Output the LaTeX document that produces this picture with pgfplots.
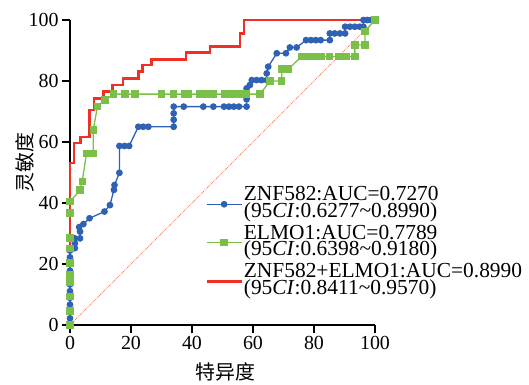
\documentclass[border=0pt]{standalone}
\usepackage{pgfplots}
\pgfplotsset{compat=1.18}
\usepackage{fontspec}
\setmainfont{Liberation Serif}
\newfontfamily\cjk{Noto Sans CJK SC}
\definecolor{cblue}{RGB}{47,98,180}
\definecolor{cgreen}{RGB}{122,192,72}
\definecolor{cred}{RGB}{240,48,36}
\definecolor{cdiag}{RGB}{242,112,82}
\newcommand\twolines[2]{$\vcenter{\baselineskip=16.7bp\lineskiplimit=-50bp\hbox{#1}\hbox{#2}}$}
\begin{document}
\begin{tikzpicture}
\begin{axis}[
  scale only axis, width=305bp, height=305bp,
  xmin=0, xmax=100, ymin=0, ymax=100,
  axis lines*=left, clip=false,
  axis line style={line width=1.6bp, black},
  tick style={line width=1.6bp, black},
  major tick length=8bp, tick align=outside,
  xtick={0,20,...,100}, ytick={0,20,...,100},
  /pgf/number format/assume math mode=true,
  ticklabel style={font=\fontsize{20}{20}\selectfont},
  xlabel={\cjk 特异度}, ylabel={\cjk 灵敏度},
  label style={font=\fontsize{20}{20}\selectfont},
  xlabel style={at={(axis description cs:0.511,-0.154)}, anchor=center},
  ylabel style={at={(axis description cs:-0.1475,0.534)}, anchor=center},
  legend style={draw=none, fill=none, at={(0.443,0.458)}, anchor=north west,
    font=\fontsize{21.5}{16.7}\selectfont, row sep=1bp, inner sep=0pt,
    nodes={inner sep=1bp, text depth=}},
  legend cell align=left,
  legend image code/.code={\draw[mark repeat=2,mark phase=2,#1] plot coordinates {(0bp,0bp) (17.5bp,0bp) (35bp,0bp)};},
]
\path (axis cs:-22.95,-18.36) rectangle (axis cs:150.5,106.56);
\addplot[cdiag, line width=0.8bp, densely dotted, forget plot] coordinates {(0,0) (100,100)};
\addplot[cblue, line width=1.3bp, mark=*, mark size=2.7bp, mark options={fill=cblue, draw=cblue}] coordinates {
(0,0)(0,2.2)(0,4.4)(0,6.7)(0,8.9)(0,11.1)(0,13.3)(0,15.6)(0,17.8)(0,20)(0,22.2)(0,24.4)
(1.6,25.2)(1.6,26.8)(1.6,28.4)(3.3,28.4)(3.3,30.6)(3.0,32.1)(4.4,33.1)(6.4,35.0)(11.3,37.2)(13.1,39.3)
(14.4,44.3)(14.6,45.9)(16.2,49.9)(16.2,58.7)(17.9,58.7)(19.4,58.7)(22.4,65)(24,65)(25.7,65)(34,65)
(34,67.3)(34,69.4)(34,71.6)(37.3,71.6)(43.7,71.6)(47,71.6)(50.5,71.6)(52.1,71.6)(53.7,71.6)(55.4,71.6)(57.9,71.6)
(57.9,74)(57.9,77.6)(59,78.7)(59.6,80.3)(61.2,80.3)(62.8,80.3)(64.5,80.3)(64.5,82.5)(65,84.7)(67.8,89.1)(70.8,89.1)
(72.1,91)(74.3,91)(77.4,93.4)(79,93.4)(80.6,93.4)(82.2,93.4)(85.2,93.4)(85.2,95.6)(86.8,95.6)(88.5,95.6)(90.2,95.6)
(90.2,97.8)(91.8,97.8)(93.4,97.8)(95,97.8)(96.2,97.8)(96.2,100)(97.5,100)(98.8,100)(100,100)};
\addlegendentry{\twolines{ZNF582:AUC=0.7270}{(95\textit{CI}:0.6277\textasciitilde 0.8990)}}
\addplot[cgreen, line width=1.3bp, mark=square*, mark size=3bp, mark options={fill=cgreen, draw=cgreen}] coordinates {
(0,0)(0,4.6)(0,9.3)(0,13.9)(0,16.4)(0,20.3)(0,25)(0,28.5)(0,36.7)(0,40.4)(3.3,44.3)(4,47)(5.4,56.2)(7.6,56.2)
(7.6,63.9)(9,71.6)(11.5,73.8)(14.2,75.7)(18,75.7)(21.3,75.7)(30.1,75.7)(33.9,75.7)(37.7,75.7)(38.8,75.7)(42.6,75.7)
(44.8,75.7)(47,75.7)(50.8,75.7)(53,75.7)(54.6,75.7)(55.7,75.7)(57.9,75.7)(62.3,75.7)(65.6,80)(69.4,80)(69.4,83.9)
(71.6,83.9)(75.9,88)(78,88)(80,88)(82.5,88)(85,88)(88,88)(90.5,88)(93.4,88)(93.4,91.8)(96.7,91.8)(96.7,96.2)(100,100)};
\addlegendentry{\twolines{ELMO1:AUC=0.7789}{(95\textit{CI}:0.6398\textasciitilde 0.9180)}}
\addplot[cred, line width=2.6bp] coordinates {
(0,0)(0,53.1)(1.3,53.1)(1.3,59.7)(3.5,59.7)(3.5,61.6)(6.3,61.6)(6.3,70.5)(7.9,70.5)(7.9,74.3)(10.9,74.3)
(10.9,76.5)(13.9,76.5)(13.9,78.7)(17.4,78.7)(17.4,80.9)(22.4,80.9)(22.4,83.1)(23.8,83.1)(23.8,85.2)(26.8,85.2)
(26.8,87.1)(38,87.1)(38,89.3)(45.9,89.3)(45.9,91.3)(55.7,91.3)(55.7,95.6)(57,95.6)(57,100)(100,100)};
\addlegendentry{\twolines{ZNF582+ELMO1:AUC=0.8990}{(95\textit{CI}:0.8411\textasciitilde 0.9570)}}
\end{axis}
\end{tikzpicture}
\end{document}
